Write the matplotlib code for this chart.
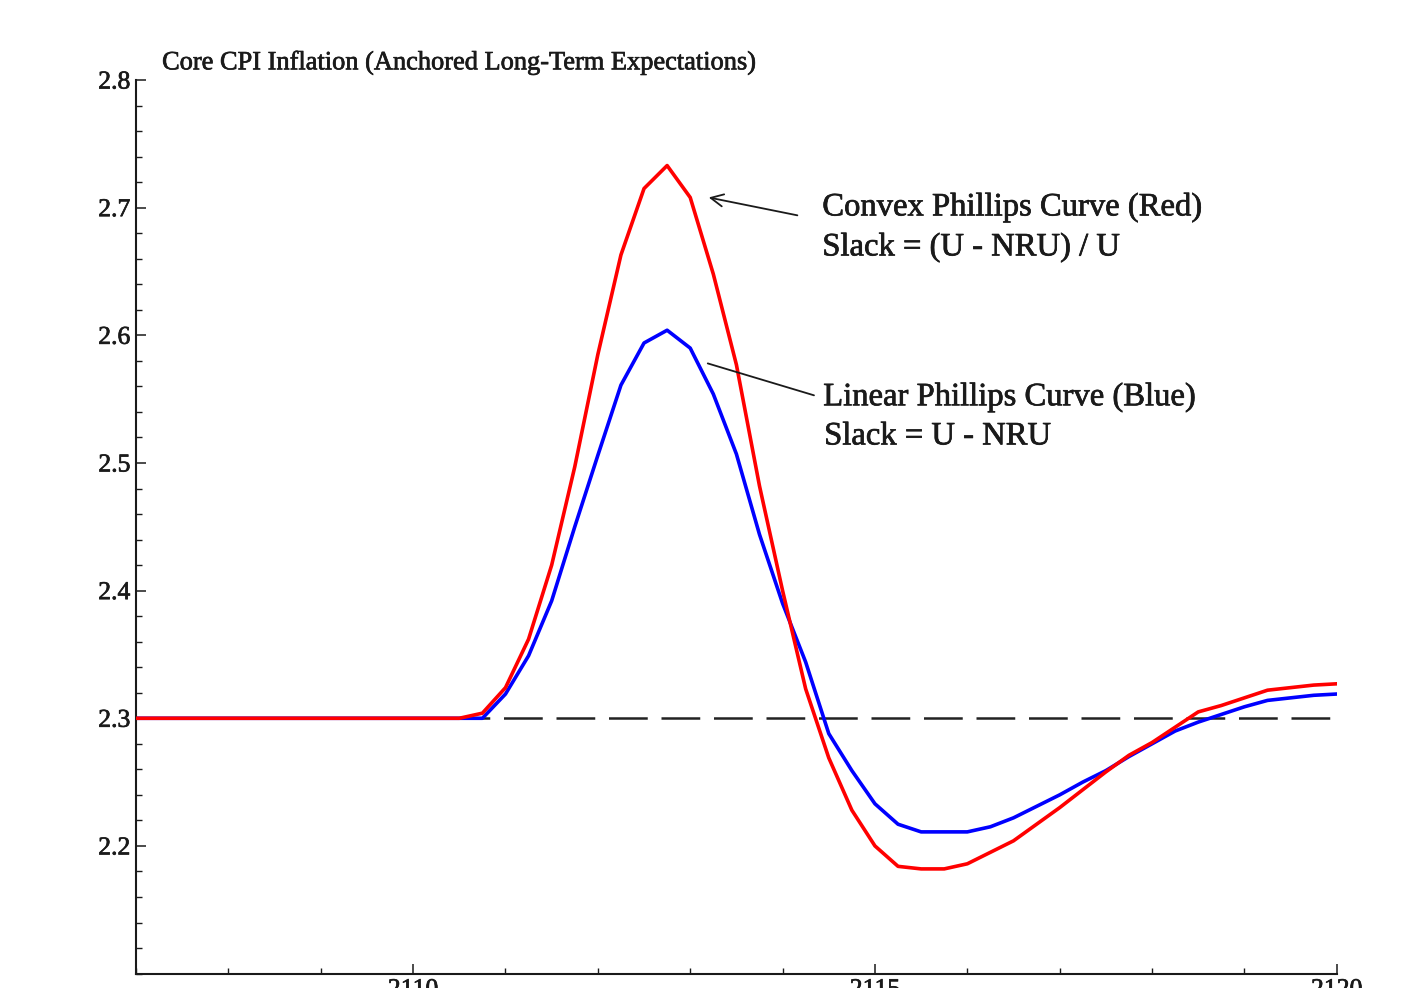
import matplotlib
matplotlib.use("Agg")
import matplotlib.pyplot as plt
import matplotlib.ticker as mtick
import matplotlib.patheffects as pe
import numpy as np

# ── Data (quarterly) ─────────────────────────────────────────────────────────
quarters = np.arange(2107.0, 2120.01, 0.25)

red_convex = [
    2.300, 2.300, 2.300, 2.300, 2.300, 2.300, 2.300, 2.300,
    2.300, 2.300, 2.300, 2.300, 2.300, 2.300, 2.300,
    2.304, 2.324, 2.362, 2.420, 2.497, 2.585, 2.663, 2.715,
    2.733, 2.708, 2.648, 2.577, 2.482, 2.400, 2.323, 2.269,
    2.228, 2.200, 2.184, 2.182, 2.182, 2.186, 2.195, 2.204,
    2.217, 2.230, 2.244, 2.258, 2.271, 2.281, 2.293, 2.305,
    2.310, 2.316, 2.322, 2.324, 2.326, 2.327,
]
blue_linear = [
    2.300, 2.300, 2.300, 2.300, 2.300, 2.300, 2.300, 2.300,
    2.300, 2.300, 2.300, 2.300, 2.300, 2.300, 2.300,
    2.300, 2.319, 2.349, 2.392, 2.450, 2.506, 2.561, 2.594,
    2.604, 2.590, 2.554, 2.507, 2.444, 2.390, 2.344, 2.288,
    2.259, 2.233, 2.217, 2.211, 2.211, 2.211, 2.215, 2.222,
    2.231, 2.240, 2.250, 2.259, 2.270, 2.280, 2.290, 2.297,
    2.303, 2.309, 2.314, 2.316, 2.318, 2.319,
]
anchor_level = 2.3

title = "Core CPI Inflation (Anchored Long-Term Expectations)"
convex_label = ["Convex Phillips Curve (Red)", "Slack = (U - NRU) / U"]
linear_label = ["Linear Phillips Curve (Blue)", "Slack = U - NRU"]

x_major = [2110, 2115, 2120]
y_major = [2.2, 2.3, 2.4, 2.5, 2.6, 2.7, 2.8]

# ── Style ────────────────────────────────────────────────────────────────────
SERIF = "Liberation Serif"
INK = "#1a1a1a"
plt.rcParams["font.family"] = [SERIF, "DejaVu Serif"]
heavy = [pe.withStroke(linewidth=0.5, foreground=INK)]

fig = plt.figure(figsize=(14.11, 9.88), dpi=100)
fig.patch.set_facecolor("white")
ax = fig.add_axes([0.0964, 0.0146, 0.851, 0.9044])

ax.axhline(anchor_level, color="#222222", linewidth=1.8, dashes=(15.5, 5.5), zorder=1)
ax.plot(quarters, blue_linear, color="#0000ff", linewidth=2.6, zorder=2)
ax.plot(quarters, red_convex, color="#ff0000", linewidth=2.6, zorder=3)

ax.set_xlim(2107, 2120)
ax.set_ylim(2.1, 2.8)

ax.xaxis.set_major_locator(mtick.FixedLocator(x_major))
ax.xaxis.set_minor_locator(mtick.MultipleLocator(1))
ax.yaxis.set_major_locator(mtick.FixedLocator(y_major))
ax.yaxis.set_minor_locator(mtick.MultipleLocator(0.02))
ax.yaxis.set_major_formatter(mtick.FormatStrFormatter("%.1f"))

for side in ["top", "right"]:
    ax.spines[side].set_visible(False)
for side in ["left", "bottom"]:
    ax.spines[side].set_linewidth(1.5)
    ax.spines[side].set_color(INK)

ax.tick_params(which="major", direction="in", length=7, width=1.1, color=INK,
               labelsize=18.5, labelcolor=INK, pad=4)
ax.tick_params(which="minor", direction="in", length=4, width=1.0, color=INK)
for lbl in ax.get_xticklabels() + ax.get_yticklabels():
    lbl.set_path_effects(heavy)

# title sits inside the figure, just right of the axis top
ax.text(0.0217, 1.019, title, transform=ax.transAxes, ha="left", va="center",
        fontsize=19, color=INK, path_effects=heavy)

# annotations
ax.annotate("", xy=(2113.2, 2.708), xytext=(2114.16, 2.694),
            arrowprops=dict(arrowstyle="->,head_length=0.45,head_width=0.22",
                            color=INK, lw=1.3, shrinkA=0, shrinkB=0,
                            mutation_scale=20))
ax.annotate("", xy=(2113.19, 2.578), xytext=(2114.34, 2.553),
            arrowprops=dict(arrowstyle="-", color=INK, lw=1.3,
                            shrinkA=0, shrinkB=0))

ax.text(2114.43, 2.7005, convex_label[0], fontsize=23.5, color=INK, va="center",
        path_effects=heavy)
ax.text(2114.43, 2.669, convex_label[1], fontsize=23.5, color=INK, va="center",
        path_effects=heavy)
ax.text(2114.44, 2.5516, linear_label[0], fontsize=23.5, color=INK, va="center",
        path_effects=heavy)
ax.text(2114.45, 2.521, linear_label[1], fontsize=23.5, color=INK, va="center",
        path_effects=heavy)

fig.savefig("out.png", dpi=100, facecolor="white")
